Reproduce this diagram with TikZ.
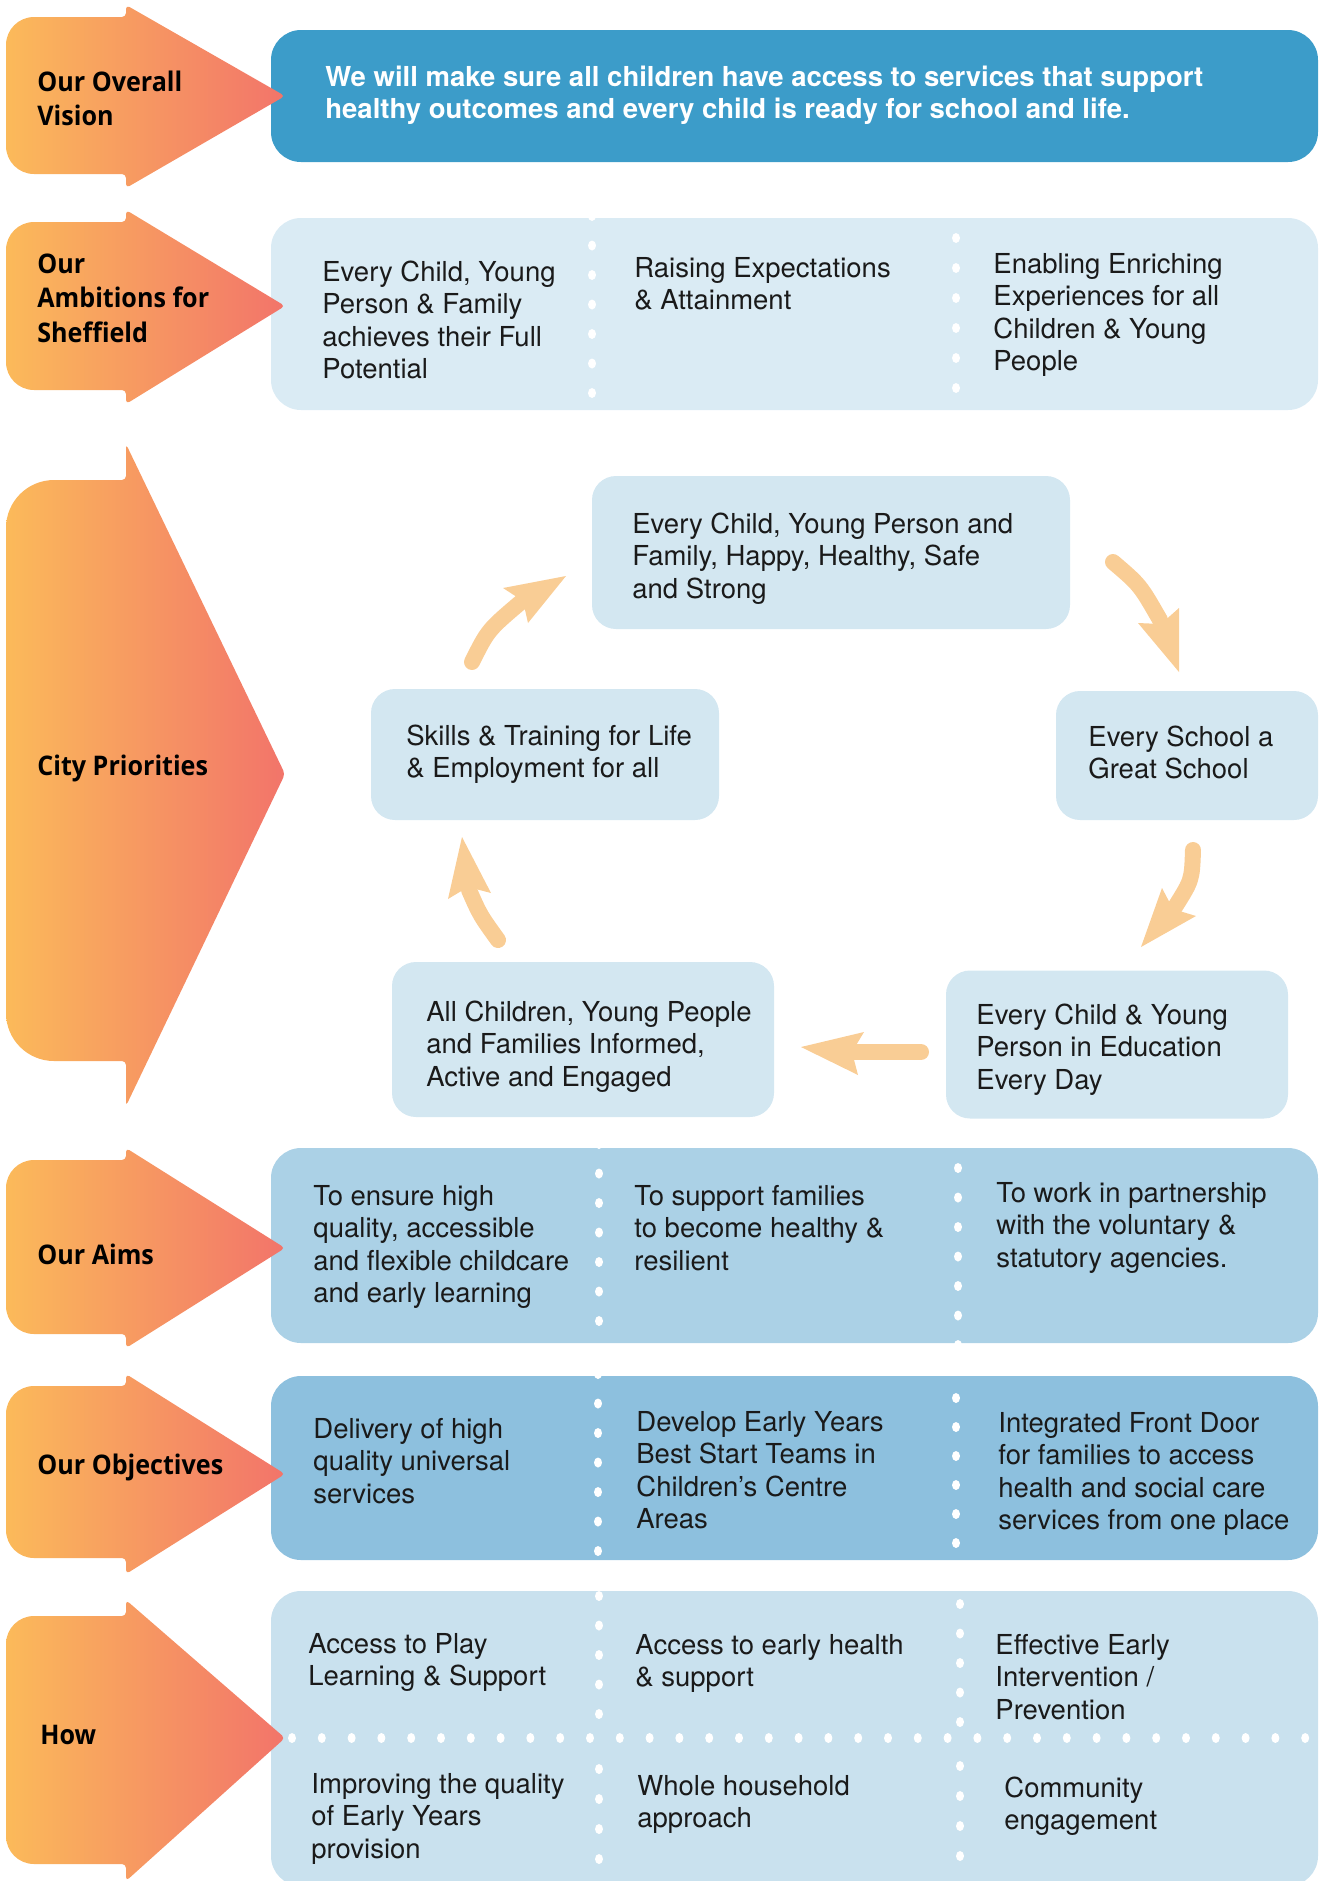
\documentclass[tikz,border=0pt]{standalone}
\usepackage{fontspec}
\setmainfont{TeX Gyre Heros}
\newfontfamily\labelfont[FakeStretch=0.93]{Open Sans}
\usetikzlibrary{calc}
\definecolor{gradL}{HTML}{FBBA5A}
\definecolor{gradR}{HTML}{F2746A}
\definecolor{visionblue}{HTML}{3C9CC9}
\definecolor{ambbox}{HTML}{DAEBF4}
\definecolor{cycbox}{HTML}{D3E7F1}
\definecolor{aimbox}{HTML}{ABD1E6}
\definecolor{objbox}{HTML}{8DC0DE}
\definecolor{howbox}{HTML}{C9E1EE}
\definecolor{cyarrow}{HTML}{F9CD95}
\definecolor{txt}{HTML}{1A1A1A}
% #1 body top, #2 body bottom, #3 head top, #4 head bottom, #5 tip y, #6 corner radius
\newcommand{\sideArrow}[6]{%
  \path[left color=gradL, right color=gradR]
    (60,#2) [rounded corners=#6] -- (6,#2) -- (6,#1)
    [rounded corners=2pt] -- (126,#1) -- (126,#3) -- (285,#5) -- (126,#4) -- (126,#2) -- cycle;}
\tikzset{
  bodytext/.style={font=\fontsize{13.75}{16.25}\selectfont, text=txt, align=left, anchor=base west, inner sep=0pt},
  visiontext/.style={font=\bfseries\fontsize{13.75}{16}\selectfont, text=white, align=left, anchor=base west, inner sep=0pt},
  lbl/.style={font=\labelfont\bfseries\fontsize{13.5}{17.25}\selectfont, text=black, align=left, anchor=base west, inner sep=0pt},
  panel/.style={rounded corners=15pt, inner sep=0pt, draw=none},
  cybox/.style={rounded corners=12pt, inner sep=0pt, draw=none, fill=cycbox},
  cyshaft/.style={draw=cyarrow, line width=8pt, line cap=round},
  cyhead/.style={fill=cyarrow},
  wdot/.style={fill=white}
}
\begin{document}
\begin{tikzpicture}[x=0.5pt,y=-0.5pt]
\useasboundingbox (0,0) rectangle (1320,1881);
\clip (0,0) rectangle (1320,1881);

% ---------- panels ----------
\node[panel, fill=visionblue, minimum width=523.5pt, minimum height=66pt] (vision) at (794.5,96) {};
\node[panel, fill=ambbox, minimum width=523.5pt, minimum height=96pt] (amb) at (794.5,314) {};
\node[panel, fill=aimbox, minimum width=523.5pt, minimum height=97.5pt] (aims) at (794.5,1245.5) {};
\node[panel, fill=objbox, minimum width=523.5pt, minimum height=92pt] (obj) at (794.5,1468) {};
\node[panel, fill=howbox, minimum width=523.5pt, minimum height=147.5pt] (how) at (794.5,1738.5) {};

% ---------- dotted separators ----------
\foreach \y in {216,245.5,...,400} \fill[wdot] (592,\y) ellipse[x radius=4, y radius=5];
\foreach \y in {238,268,...,400} \fill[wdot] (956,\y) ellipse[x radius=4, y radius=5];
\foreach \y in {1144,1173.5,...,1330} \fill[wdot] (599,\y) ellipse[x radius=4, y radius=5];
\foreach \y in {1168,1197.5,...,1350} \fill[wdot] (958,\y) ellipse[x radius=4, y radius=5];
\foreach \y in {1374,1403.5,...,1560} \fill[wdot] (598,\y) ellipse[x radius=4, y radius=5];
\foreach \y in {1398,1427,...,1550} \fill[wdot] (956,\y) ellipse[x radius=4, y radius=5];
\foreach \y in {1596,1625.5,...,1720} \fill[wdot] (599,\y) ellipse[x radius=4, y radius=5];
\foreach \y in {1769,1799,...,1870} \fill[wdot] (599,\y) ellipse[x radius=4, y radius=5];
\foreach \y in {1604,1633.5,...,1725} \fill[wdot] (960,\y) ellipse[x radius=4, y radius=5];
\foreach \y in {1766,1796,...,1870} \fill[wdot] (960,\y) ellipse[x radius=4, y radius=5];
\foreach \x in {292,321.8,...,1322} \fill[wdot] (\x,1738) ellipse[x radius=4, y radius=5];

% ---------- left arrows (drawn over the panels) ----------
\sideArrow{17}{174}{5}{188}{96}{14pt}
\sideArrow{222}{390}{210}{404}{306}{14pt}
\sideArrow{480}{1061}{444}{1106}{774}{24pt}
\sideArrow{1160}{1334}{1148}{1348}{1248}{14pt}
\sideArrow{1386}{1558}{1374}{1574}{1474}{14pt}
\sideArrow{1616}{1864}{1600}{1881}{1738}{14pt}

% labels (anchor = baseline of last line)
\node[lbl] (l1) at (37,125.5) {Our Overall\\Vision};
\node[lbl] (l2) at (37,342) {Our\\Ambitions for\\Sheffield};
\node[lbl] (l3) at (37,775) {City Priorities};
\node[lbl] (l4) at (37,1264) {Our Aims};
\node[lbl] (l5) at (37,1474) {Our Objectives};
\node[lbl] (l6) at (40,1744) {How};

% ---------- panel texts (anchor = baseline of last line) ----------
\node[visiontext] (vt) at (325,118) {We will make sure all children have access to services that support\\healthy outcomes and every child is ready for school and life.};

\node[bodytext] (a1) at (322,378.5) {Every Child, Young\\Person \& Family\\achieves their Full\\Potential};
\node[bodytext] (a2) at (634,309.5) {Raising Expectations\\\& Attainment};
\node[bodytext] (a3) at (993,370.5) {Enabling Enriching\\Experiences for all\\Children \& Young\\People};

\node[bodytext] (m1) at (313,1302.5) {To ensure high\\quality, accessible\\and flexible childcare\\and early learning};
\node[bodytext] (m2) at (634,1270) {To support families\\to become healthy \&\\resilient};
\node[bodytext] (m3) at (996,1267) {To work in partnership\\with the voluntary \&\\statutory agencies.};

\node[bodytext] (o1) at (313,1503) {Delivery of high\\quality universal\\services};
\node[bodytext] (o2) at (636,1528.5) {Develop Early Years\\Best Start Teams in\\Children’s Centre\\Areas};
\node[bodytext] (o3) at (998,1529.5) {Integrated Front Door\\for families to access\\health and social care\\services from one place};

\node[bodytext] (h1) at (308,1685.5) {Access to Play\\Learning \& Support};
\node[bodytext] (h2) at (635,1686.5) {Access to early health\\\& support};
\node[bodytext] (h3) at (995,1719) {Effective Early\\Intervention /\\Prevention};
\node[bodytext] (h4) at (311,1858) {Improving the quality\\of Early Years\\provision};
\node[bodytext] (h5) at (637,1827.5) {Whole household\\approach};
\node[bodytext] (h6) at (1004,1829.5) {Community\\engagement};

% ---------- city priorities cycle ----------
\node[cybox, minimum width=239pt, minimum height=76.5pt] (ctop) at (831,552.5) {};
\node[cybox, minimum width=131pt, minimum height=64.5pt] (cright) at (1187,755.5) {};
\node[cybox, minimum width=171pt, minimum height=74pt] (cbr) at (1117,1044.5) {};
\node[cybox, minimum width=191pt, minimum height=77.5pt] (cbl) at (583,1039.5) {};
\node[cybox, minimum width=174pt, minimum height=65.5pt] (cleft) at (545,754.5) {};

\node[bodytext] (ttop) at (632,598) {Every Child, Young Person and\\Family, Happy, Healthy, Safe\\and Strong};
\node[bodytext] (tright) at (1088,778.5) {Every School a\\Great School};
\node[bodytext] (tbr) at (976,1089) {Every Child \& Young\\Person in Education\\Every Day};
\node[bodytext] (tbl) at (426,1086) {All Children, Young People\\and Families Informed,\\Active and Engaged};
\node[bodytext] (tleft) at (406,777.5) {Skills \& Training for Life\\\& Employment for all};

% cycle arrows
\coordinate (aAs) at (472,662); \coordinate (aAt) at (566,576);
\draw[cyshaft] (aAs) .. controls (488,630) .. (521,602);
\fill[cyhead] (aAt) -- (503,588) -- (523,601) -- (528,623) -- cycle;

\coordinate (aBs) at (1113,562); \coordinate (aBt) at (1179,672);
\draw[cyshaft] (aBs) .. controls (1140,585) .. (1160,620);
\fill[cyhead] (aBt) -- (1138,623) -- (1161,624) -- (1179,608) -- cycle;

\coordinate (aCs) at (1193,850); \coordinate (aCt) at (1141,947);
\draw[cyshaft] (aCs) .. controls (1192,880) .. (1175,907);
\fill[cyhead] (aCt) -- (1162,888) -- (1173,909) -- (1196,916) -- cycle;

\coordinate (aDs) at (921,1052); \coordinate (aDt) at (801,1047);
\draw[cyshaft] (aDs) -- (855,1052);
\fill[cyhead] (aDt) -- (864,1032) -- (852,1052) -- (858,1075) -- cycle;

\coordinate (aEs) at (498,940); \coordinate (aEt) at (462,837);
\draw[cyshaft] (aEs) .. controls (480,915) .. (469,890);
\fill[cyhead] (aEt) -- (448,899) -- (468,887) -- (491,893) -- cycle;
\end{tikzpicture}
\end{document}
